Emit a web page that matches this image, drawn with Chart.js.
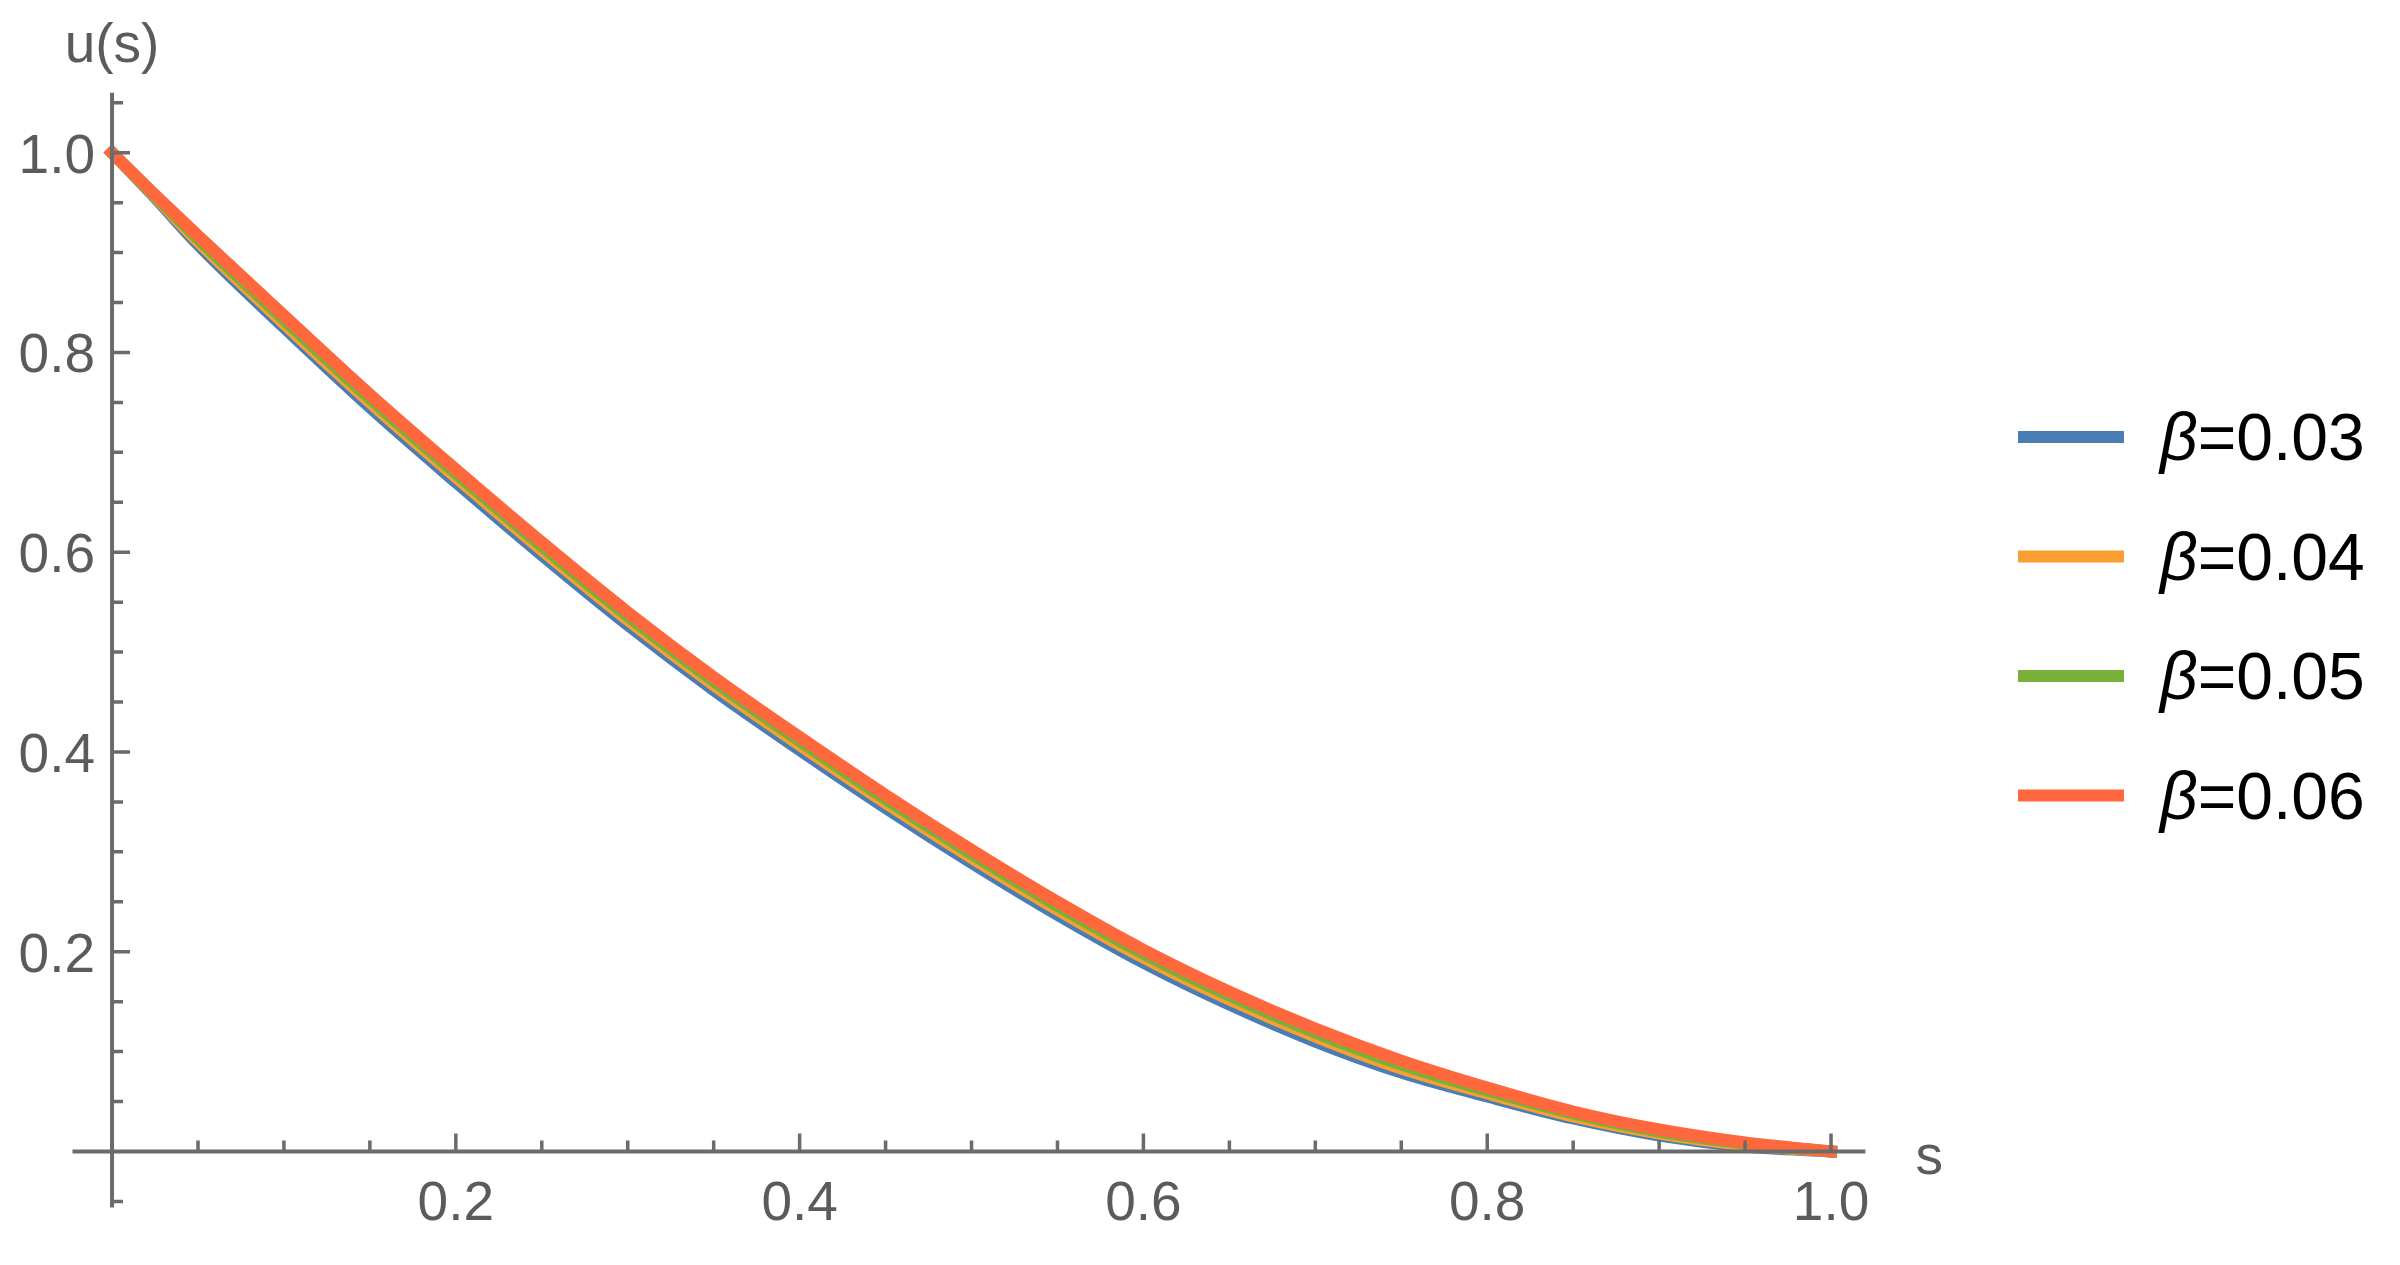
<!DOCTYPE html>
<html>
<head>
<meta charset="utf-8">
<script src="https://cdn.jsdelivr.net/npm/chart.js@4.4.0/dist/chart.umd.min.js"></script>
<style>
  html, body { margin: 0; padding: 0; background: #ffffff; }
  canvas { display: block; }
</style>
</head>
<body>
<canvas id="plot" width="2400" height="1265"></canvas>
<script>
// values, u(s) for each beta
const sValues = [0, 0.025, 0.05, 0.1, 0.15, 0.2, 0.25, 0.3, 0.35, 0.4, 0.45, 0.5, 0.55, 0.6, 0.65, 0.7, 0.75, 0.8, 0.85, 0.9, 0.95, 1.0];
const uBeta003 = [1.000, 0.955, 0.908, 0.825, 0.745, 0.670, 0.597, 0.527, 0.462, 0.402, 0.344, 0.289, 0.237, 0.189, 0.147, 0.110, 0.079, 0.055, 0.033, 0.016, 0.005, 0];
const uBeta004 = [1.000, 0.956, 0.911, 0.829, 0.750, 0.675, 0.602, 0.532, 0.467, 0.407, 0.349, 0.294, 0.242, 0.194, 0.152, 0.115, 0.083, 0.058, 0.035, 0.018, 0.0065, 0];
const uBeta005 = [1.000, 0.957, 0.914, 0.833, 0.754, 0.679, 0.606, 0.536, 0.471, 0.411, 0.353, 0.298, 0.246, 0.198, 0.156, 0.119, 0.087, 0.061, 0.038, 0.020, 0.008, 0];
const uBeta006 = [1.000, 0.958, 0.917, 0.837, 0.758, 0.683, 0.610, 0.540, 0.475, 0.415, 0.357, 0.302, 0.250, 0.202, 0.160, 0.123, 0.091, 0.064, 0.040, 0.022, 0.009, 0];

const betaLabels = ['0.03', '0.04', '0.05', '0.06'];
const betaColors = ['#4a7db3', '#f99f31', '#78b03a', '#ff683c'];

// axis ticks (Mathematica style: labelled majors + 0.05 minors)
const xTickLabels = ['0.2', '0.4', '0.6', '0.8', '1.0'];
const yTickLabels = ['0.2', '0.4', '0.6', '0.8', '1.0'];
const minorStep = 0.05;

const axisColor = '#6b6b6b';
const labelColor = '#5b5b5b';
const fontName = '"Liberation Sans", Arial, sans-serif';

let toPoints = (ys) => ys.map((v, i) => ({x: sValues[i], y: v}));

const allSeries = [uBeta003, uBeta004, uBeta005, uBeta006];

const datasets = allSeries.map((ys, i) => ({
    label: 'β=' + betaLabels[i],
    data: toPoints(ys),
    borderColor: betaColors[i],
    backgroundColor: betaColors[i],
    borderWidth: 12,
    borderCapStyle: 'square',
    borderJoinStyle: 'round',
    pointRadius: 0,
    cubicInterpolationMode: 'monotone',
    fill: false,
    order: allSeries.length - i, // last beta drawn on top
}));

// axes through the origin, ticks pointing inwards, drawn over the curves
const axesPlugin = {
    id: 'originAxes',
    afterDatasetsDraw(chart) {
        const {ctx, chartArea, scales: {x, y}} = chart;
        const x0 = x.getPixelForValue(0);
        const y0 = y.getPixelForValue(0);
        ctx.save();
        ctx.strokeStyle = axisColor;
        ctx.lineCap = 'butt';

        ctx.lineWidth = 4;
        ctx.beginPath();
        ctx.moveTo(chartArea.left, y0);
        ctx.lineTo(chartArea.right, y0);
        ctx.moveTo(x0, chartArea.bottom);
        ctx.lineTo(x0, chartArea.top);
        ctx.stroke();

        ctx.lineWidth = 3.5;
        ctx.beginPath();
        // x ticks
        for (let i = 1; i <= 20; i++) {
            const px = x.getPixelForValue(i * minorStep);
            const len = (i % 4 === 0) ? 18 : 11;
            ctx.moveTo(px, y0);
            ctx.lineTo(px, y0 - len);
        }
        // y ticks
        for (let i = -1; i <= 21; i++) {
            if (i === 0) continue;
            const py = y.getPixelForValue(i * minorStep);
            const len = (i % 4 === 0) ? 18 : 11;
            ctx.moveTo(x0, py);
            ctx.lineTo(x0 + len, py);
        }
        ctx.stroke();

        // tick labels
        ctx.fillStyle = labelColor;
        ctx.font = '55px ' + fontName;
        ctx.textAlign = 'center';
        ctx.textBaseline = 'alphabetic';
        xTickLabels.forEach(t => {
            ctx.fillText(t, x.getPixelForValue(parseFloat(t)), y0 + 69);
        });
        ctx.textAlign = 'right';
        yTickLabels.forEach(t => {
            ctx.fillText(t, x0 - 17, y.getPixelForValue(parseFloat(t)) + 20);
        });

        // axis labels
        ctx.textAlign = 'center';
        ctx.fillText('u(s)', x0, 62);
        ctx.textAlign = 'left';
        ctx.fillText('s', chartArea.right + 50, y0 + 23);
        ctx.restore();
    }
};

// legend at the right with italic beta
const legendPlugin = {
    id: 'betaLegend',
    afterDraw(chart) {
        const {ctx} = chart;
        const lineX1 = 2018, lineX2 = 2124, textX = 2160;
        const firstRow = 437, rowGap = 119.5;
        ctx.save();
        chart.data.datasets.forEach((ds, i) => {
            const cy = firstRow + i * rowGap;
            ctx.strokeStyle = ds.borderColor;
            ctx.lineWidth = 12;
            ctx.lineCap = 'butt';
            ctx.beginPath();
            ctx.moveTo(lineX1, cy);
            ctx.lineTo(lineX2, cy);
            ctx.stroke();

            ctx.fillStyle = '#000000';
            ctx.textAlign = 'left';
            ctx.textBaseline = 'alphabetic';
            ctx.font = 'italic 66px ' + fontName;
            ctx.fillText('β', textX, cy + 23);
            const bw = ctx.measureText('β').width;
            ctx.font = '66px ' + fontName;
            ctx.fillText('=' + betaLabels[i], textX + bw, cy + 23);
        });
        ctx.restore();
    }
};

Chart.defaults.font.family = fontName;

const config = {
    type: 'line',
    data: { datasets },
    options: {
        responsive: false,
        animation: false,
        devicePixelRatio: 1,
        layout: {
            padding: { left: 72.5, right: 534.6, top: 92.8, bottom: 57.6 }
        },
        scales: {
            x: { type: 'linear', min: -0.023, max: 1.02, display: false },
            y: { type: 'linear', min: -0.056, max: 1.06, display: false }
        },
        plugins: {
            legend: { display: false },
            tooltip: { enabled: false }
        }
    },
    plugins: [axesPlugin, legendPlugin]
};

const uChart = new Chart(document.getElementById('plot').getContext('2d'), config);
</script>
</body>
</html>
